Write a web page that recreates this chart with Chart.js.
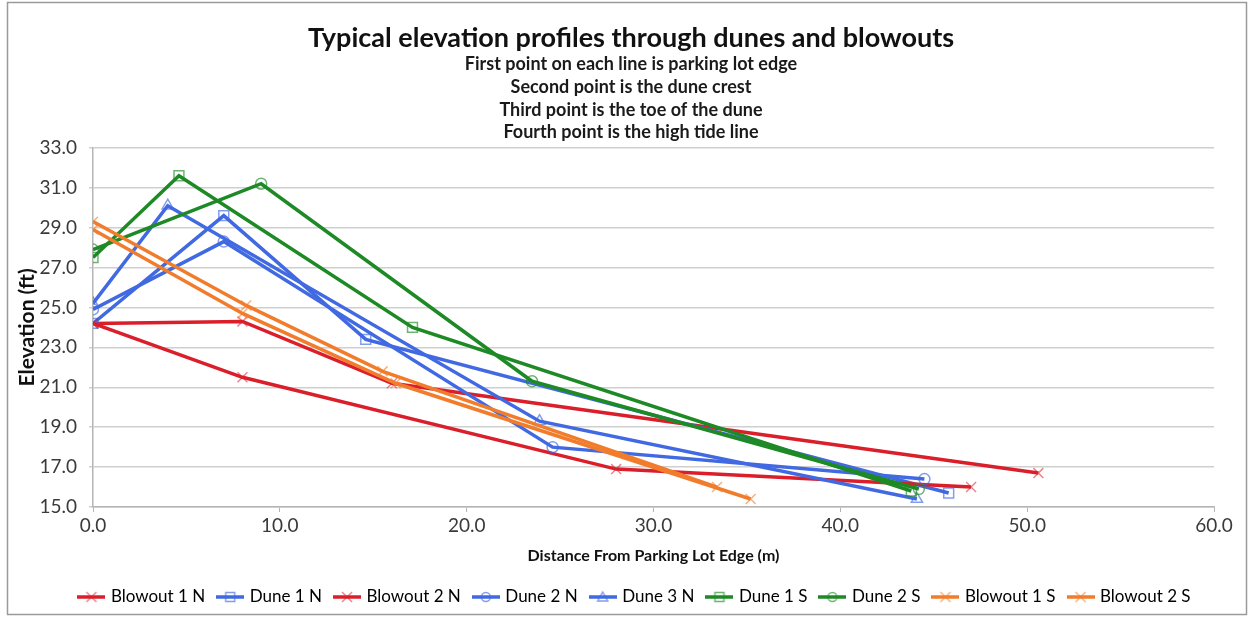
<!DOCTYPE html>
<html>
<head>
<meta charset="utf-8">
<title>Typical elevation profiles through dunes and blowouts</title>
<script src="https://cdn.jsdelivr.net/npm/chart.js@4.4.1/dist/chart.umd.min.js"></script>
<style>
  html, body { margin: 0; padding: 0; background: #ffffff; }
  canvas { display: block; }
</style>
</head>
<body>
<canvas id="chart" width="1251" height="617"></canvas>
<script>
// Profile series: distance from the parking lot edge (m) and elevation (ft).
// Point order: parking lot edge, dune crest, toe of the dune, high tide line.
const seriesNames = ['Blowout 1 N', 'Dune 1 N', 'Blowout 2 N', 'Dune 2 N', 'Dune 3 N',
                     'Dune 1 S', 'Dune 2 S', 'Blowout 1 S', 'Blowout 2 S'];

const blowout1N_x = [0.0, 8.0, 16.0, 50.6];
const blowout1N_y = [24.2, 24.3, 21.2, 16.7];

const dune1N_x = [0.0, 7.0, 14.6, 45.8];
const dune1N_y = [24.2, 29.6, 23.4, 15.7];

const blowout2N_x = [0.0, 8.0, 28.0, 47.0];
const blowout2N_y = [24.2, 21.5, 16.9, 16.0];

const dune2N_x = [0.0, 7.0, 24.6, 44.5];
const dune2N_y = [24.9, 28.3, 18.0, 16.4];

const dune3N_x = [0.0, 4.0, 23.9, 44.1];
const dune3N_y = [25.2, 30.1, 19.3, 15.4];

const dune1S_x = [0.0, 4.6, 17.1, 43.8];
const dune1S_y = [27.5, 31.6, 24.0, 15.8];

const dune2S_x = [0.0, 9.0, 23.5, 44.2];
const dune2S_y = [27.9, 31.2, 21.3, 15.9];

const blowout1S_x = [0.0, 8.2, 15.5, 33.4];
const blowout1S_y = [29.3, 25.1, 21.8, 16.0];

const blowout2S_x = [0.0, 8.0, 16.2, 35.2];
const blowout2S_y = [28.9, 24.7, 21.2, 15.4];

// Axis ticks
const xTicks = [0, 10, 20, 30, 40, 50, 60];
const yTicks = [15, 17, 19, 21, 23, 25, 27, 29, 31, 33];

const chartTitle = 'Typical elevation profiles through dunes and blowouts';
const chartNotes = ['First point on each line is parking lot edge',
                    'Second point is the dune crest',
                    'Third point is the toe of the dune',
                    'Fourth point is the high tide line'];
const xTitle = 'Distance From Parking Lot Edge (m)';
const yTitle = 'Elevation (ft)';

// Styling per series
const RED = '#da1f2b', BLUE = '#4169e1', GREEN = '#1e8a26', ORANGE = '#f17d2c';
const styles = [
  { color: RED,    marker: 'crossRot', mark: 'rgba(216,32,44,0.55)' },
  { color: BLUE,   marker: 'rect',     mark: 'rgba(65,105,225,0.65)' },
  { color: RED,    marker: 'crossRot', mark: 'rgba(216,32,44,0.55)' },
  { color: BLUE,   marker: 'circle',   mark: 'rgba(65,105,225,0.65)' },
  { color: BLUE,   marker: 'triangle', mark: 'rgba(65,105,225,0.65)' },
  { color: GREEN,  marker: 'rect',     mark: 'rgba(30,138,38,0.65)' },
  { color: GREEN,  marker: 'circle',   mark: 'rgba(30,138,38,0.65)' },
  { color: ORANGE, marker: 'crossRot', mark: 'rgba(241,125,44,0.6)' },
  { color: ORANGE, marker: 'crossRot', mark: 'rgba(241,125,44,0.6)' }
];
const markerRadius = { crossRot: 7, rect: 7, circle: 5.5, triangle: 6.5 };

const xs = [blowout1N_x, dune1N_x, blowout2N_x, dune2N_x, dune3N_x, dune1S_x, dune2S_x, blowout1S_x, blowout2S_x];
const ys = [blowout1N_y, dune1N_y, blowout2N_y, dune2N_y, dune3N_y, dune1S_y, dune2S_y, blowout1S_y, blowout2S_y];

const FONT = 'Lato, "Open Sans", sans-serif';

// Small line-with-marker icons for the legend
function legendIcon(style) {
  const c = document.createElement('canvas');
  c.width = 28; c.height = 14;
  const g = c.getContext('2d');
  g.strokeStyle = style.color;
  g.lineWidth = 3.5;
  g.beginPath(); g.moveTo(0, 7); g.lineTo(28, 7); g.stroke();
  g.lineWidth = 1.5;
  g.strokeStyle = style.mark;
  g.beginPath();
  if (style.marker === 'crossRot') {
    g.moveTo(9, 2); g.lineTo(19, 12); g.moveTo(19, 2); g.lineTo(9, 12);
  } else if (style.marker === 'rect') {
    g.rect(9.5, 2.5, 9, 9);
  } else if (style.marker === 'circle') {
    g.arc(14, 7, 4.5, 0, Math.PI * 2);
  } else {
    g.moveTo(14, 2); g.lineTo(19, 11); g.lineTo(9, 11); g.closePath();
  }
  g.stroke();
  return c;
}
const icons = styles.map(legendIcon);

const datasets = seriesNames.map((name, i) => ({
  label: name,
  data: xs[i].map((x, k) => ({ x: x, y: ys[i][k] })),
  showLine: true,
  borderColor: styles[i].color,
  backgroundColor: styles[i].color,
  borderWidth: 3.5,
  pointStyle: styles[i].marker,
  pointRadius: markerRadius[styles[i].marker],
  pointBorderWidth: 1.5,
  pointBorderColor: styles[i].mark,
  pointBackgroundColor: 'rgba(255,255,255,0)',
  order: seriesNames.length - i
}));

// White page and thin outer frame
const framePlugin = {
  id: 'frame',
  beforeDraw(chart) {
    const ctx = chart.ctx;
    ctx.save();
    ctx.fillStyle = '#ffffff';
    ctx.fillRect(0, 0, chart.width, chart.height);
    ctx.strokeStyle = '#9a9a9a';
    ctx.lineWidth = 1.5;
    ctx.strokeRect(7.5, 2.5, 1239, 612);
    ctx.restore();
  }
};

// Centre the title block and the legend row on the page rather than the padded box
const PAGE_CENTER = 631;
const LEGEND_CENTER = 635.5;
const recentre = {
  id: 'recentre',
  afterLayout(chart) {
    chart.boxes.forEach(box => {
      if (box.position !== 'top' && box.position !== 'bottom') return;
      if (box.axis) return; // scales keep their place
      const target = box === chart.legend ? LEGEND_CENTER : PAGE_CENTER;
      const shift = target - (box.left + box.right) / 2;
      box.left += shift; box.right += shift;
    });
  }
};

new Chart(document.getElementById('chart'), {
  type: 'scatter',
  data: { datasets: datasets },
  plugins: [framePlugin, recentre],
  options: {
    responsive: false,
    animation: false,
    layout: { padding: { left: 14, right: 37, top: 0, bottom: 1.5 } },
    plugins: {
      title: {
        display: true, text: chartTitle, color: '#111111',
        font: { family: FONT, size: 27, weight: 'bold', lineHeight: 1.0 },
        padding: { top: 25, bottom: 0 }
      },
      subtitle: {
        display: true, text: chartNotes, color: '#1a1a1a',
        font: { family: FONT, size: 18, weight: 'bold', lineHeight: 1.261 },
        padding: { top: 1, bottom: 4 }
      },
      legend: {
        position: 'bottom',
        labels: {
          usePointStyle: true,
          pointStyleWidth: 22,
          padding: 14,
          color: '#111111',
          font: { family: FONT, size: 17 },
          generateLabels: chart => chart.data.datasets.map((ds, i) => ({
            text: ds.label,
            pointStyle: icons[i],
            fillStyle: styles[i].color,
            strokeStyle: styles[i].color,
            lineWidth: 0,
            hidden: false,
            datasetIndex: i
          }))
        }
      },
      tooltip: { enabled: false }
    },
    scales: {
      x: {
        type: 'linear',
        min: xTicks[0], max: xTicks[xTicks.length - 1],
        afterBuildTicks: s => { s.ticks = xTicks.map(v => ({ value: v })); },
        afterFit: s => { s.height = 67.5; },
        ticks: {
          callback: v => Number(v).toFixed(1),
          color: '#3a3a3a', padding: 2, maxRotation: 0,
          font: { family: FONT, size: 19 }
        },
        grid: { drawOnChartArea: false, drawTicks: true, tickLength: 5, color: '#b5b5b5', lineWidth: 1 },
        border: { color: '#b5b5b5', width: 1.5 },
        title: {
          display: true, text: xTitle, color: '#111111',
          font: { family: FONT, size: 16, weight: 'bold', lineHeight: 1.2 },
          padding: { top: 0, bottom: 9 }
        }
      },
      y: {
        min: yTicks[0], max: yTicks[yTicks.length - 1],
        afterBuildTicks: s => { s.ticks = yTicks.map(v => ({ value: v })); },
        afterFit: s => { s.width = 79; },
        ticks: {
          callback: v => Number(v).toFixed(1),
          color: '#3a3a3a', padding: 12,
          font: { family: FONT, size: 19 }
        },
        grid: { color: '#cfcfcf', lineWidth: 1.5, drawTicks: true, tickLength: 4 },
        border: { color: '#b5b5b5', width: 1.5 },
        title: {
          display: true, text: yTitle, color: '#111111',
          font: { family: FONT, size: 21, weight: 'bold', lineHeight: 1.2 },
          padding: { top: 0.4, bottom: 0 }
        }
      }
    }
  }
});
</script>
</body>
</html>
